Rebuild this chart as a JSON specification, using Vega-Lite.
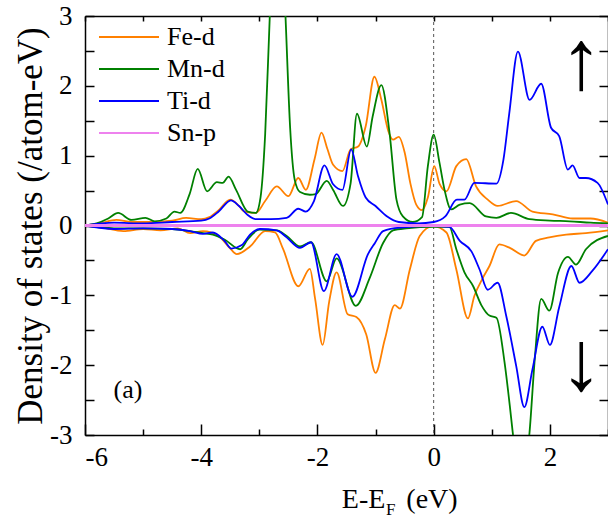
{
  "$schema": "https://vega.github.io/schema/vega-lite/v6.json",
  "width": 523,
  "height": 419,
  "autosize": {"type": "none"},
  "padding": {"left": 85, "top": 16, "right": 0, "bottom": 83},
  "background": "white",
  "config": {
    "view": {"stroke": null},
    "axis": {
      "grid": false,
      "domainColor": "black",
      "domainWidth": 1.5,
      "tickColor": "black",
      "tickWidth": 1.5,
      "labelFont": "Liberation Serif",
      "labelFontSize": 27,
      "labelColor": "black",
      "titleFont": "Liberation Serif",
      "titleFontWeight": "normal",
      "titleColor": "black"
    }
  },
  "datasets": {
    "dos": [
      {"s":"Fe-d","p":"up","x":-6,"y":0},{"s":"Fe-d","p":"up","x":-5.75,"y":0.03},{"s":"Fe-d","p":"up","x":-5.46,"y":0.08},{"s":"Fe-d","p":"up","x":-5.2,"y":0.05},{"s":"Fe-d","p":"up","x":-4.9,"y":0.05},{"s":"Fe-d","p":"up","x":-4.5,"y":0.07},{"s":"Fe-d","p":"up","x":-4.26,"y":0.11},{"s":"Fe-d","p":"up","x":-4.0,"y":0.09},{"s":"Fe-d","p":"up","x":-3.86,"y":0.12},{"s":"Fe-d","p":"up","x":-3.7,"y":0.22},{"s":"Fe-d","p":"up","x":-3.5,"y":0.37},{"s":"Fe-d","p":"up","x":-3.35,"y":0.28},{"s":"Fe-d","p":"up","x":-3.26,"y":0.2},{"s":"Fe-d","p":"up","x":-3.06,"y":0.18},{"s":"Fe-d","p":"up","x":-2.9,"y":0.35},{"s":"Fe-d","p":"up","x":-2.7,"y":0.56},{"s":"Fe-d","p":"up","x":-2.5,"y":0.42},{"s":"Fe-d","p":"up","x":-2.33,"y":0.68},{"s":"Fe-d","p":"up","x":-2.2,"y":0.51},{"s":"Fe-d","p":"up","x":-2.05,"y":0.95},{"s":"Fe-d","p":"up","x":-1.93,"y":1.33},{"s":"Fe-d","p":"up","x":-1.83,"y":1.1},{"s":"Fe-d","p":"up","x":-1.73,"y":0.87},{"s":"Fe-d","p":"up","x":-1.57,"y":0.78},{"s":"Fe-d","p":"up","x":-1.43,"y":1.09},{"s":"Fe-d","p":"up","x":-1.3,"y":1.13},{"s":"Fe-d","p":"up","x":-1.17,"y":1.42},{"s":"Fe-d","p":"up","x":-1.02,"y":2.13},{"s":"Fe-d","p":"up","x":-0.9,"y":1.8},{"s":"Fe-d","p":"up","x":-0.78,"y":1.35},{"s":"Fe-d","p":"up","x":-0.7,"y":1.23},{"s":"Fe-d","p":"up","x":-0.6,"y":1.27},{"s":"Fe-d","p":"up","x":-0.5,"y":1.05},{"s":"Fe-d","p":"up","x":-0.4,"y":0.6},{"s":"Fe-d","p":"up","x":-0.3,"y":0.3},{"s":"Fe-d","p":"up","x":-0.2,"y":0.22},{"s":"Fe-d","p":"up","x":-0.1,"y":0.4},{"s":"Fe-d","p":"up","x":0.01,"y":0.85},{"s":"Fe-d","p":"up","x":0.1,"y":0.6},{"s":"Fe-d","p":"up","x":0.22,"y":0.49},{"s":"Fe-d","p":"up","x":0.39,"y":0.85},{"s":"Fe-d","p":"up","x":0.56,"y":0.95},{"s":"Fe-d","p":"up","x":0.73,"y":0.56},{"s":"Fe-d","p":"up","x":0.93,"y":0.37},{"s":"Fe-d","p":"up","x":1.1,"y":0.28},{"s":"Fe-d","p":"up","x":1.42,"y":0.35},{"s":"Fe-d","p":"up","x":1.7,"y":0.2},{"s":"Fe-d","p":"up","x":2.05,"y":0.16},{"s":"Fe-d","p":"up","x":2.39,"y":0.1},{"s":"Fe-d","p":"up","x":2.7,"y":0.1},{"s":"Fe-d","p":"up","x":3.0,"y":0.04},
      {"s":"Mn-d","p":"up","x":-6,"y":0},{"s":"Mn-d","p":"up","x":-5.8,"y":0.03},{"s":"Mn-d","p":"up","x":-5.6,"y":0.1},{"s":"Mn-d","p":"up","x":-5.43,"y":0.18},{"s":"Mn-d","p":"up","x":-5.2,"y":0.08},{"s":"Mn-d","p":"up","x":-4.96,"y":0.11},{"s":"Mn-d","p":"up","x":-4.8,"y":0.06},{"s":"Mn-d","p":"up","x":-4.6,"y":0.1},{"s":"Mn-d","p":"up","x":-4.46,"y":0.2},{"s":"Mn-d","p":"up","x":-4.36,"y":0.18},{"s":"Mn-d","p":"up","x":-4.2,"y":0.45},{"s":"Mn-d","p":"up","x":-4.06,"y":0.81},{"s":"Mn-d","p":"up","x":-3.9,"y":0.49},{"s":"Mn-d","p":"up","x":-3.73,"y":0.62},{"s":"Mn-d","p":"up","x":-3.63,"y":0.61},{"s":"Mn-d","p":"up","x":-3.53,"y":0.7},{"s":"Mn-d","p":"up","x":-3.4,"y":0.51},{"s":"Mn-d","p":"up","x":-3.2,"y":0.2},{"s":"Mn-d","p":"up","x":-3.06,"y":0.18},{"s":"Mn-d","p":"up","x":-2.98,"y":0.4},{"s":"Mn-d","p":"up","x":-2.9,"y":1.3},{"s":"Mn-d","p":"up","x":-2.82,"y":3.0},{"s":"Mn-d","p":"up","x":-2.68,"y":5.5},{"s":"Mn-d","p":"up","x":-2.55,"y":3.0},{"s":"Mn-d","p":"up","x":-2.47,"y":1.4},{"s":"Mn-d","p":"up","x":-2.39,"y":0.65},{"s":"Mn-d","p":"up","x":-2.3,"y":0.48},{"s":"Mn-d","p":"up","x":-2.13,"y":0.44},{"s":"Mn-d","p":"up","x":-2.03,"y":0.45},{"s":"Mn-d","p":"up","x":-1.84,"y":0.64},{"s":"Mn-d","p":"up","x":-1.73,"y":0.51},{"s":"Mn-d","p":"up","x":-1.56,"y":0.28},{"s":"Mn-d","p":"up","x":-1.43,"y":0.6},{"s":"Mn-d","p":"up","x":-1.32,"y":1.6},{"s":"Mn-d","p":"up","x":-1.15,"y":1.13},{"s":"Mn-d","p":"up","x":-1.05,"y":1.56},{"s":"Mn-d","p":"up","x":-0.9,"y":2.01},{"s":"Mn-d","p":"up","x":-0.76,"y":1.33},{"s":"Mn-d","p":"up","x":-0.64,"y":0.37},{"s":"Mn-d","p":"up","x":-0.53,"y":0.13},{"s":"Mn-d","p":"up","x":-0.36,"y":0.05},{"s":"Mn-d","p":"up","x":-0.2,"y":0.12},{"s":"Mn-d","p":"up","x":-0.1,"y":0.85},{"s":"Mn-d","p":"up","x":0.0,"y":1.3},{"s":"Mn-d","p":"up","x":0.1,"y":0.9},{"s":"Mn-d","p":"up","x":0.19,"y":0.5},{"s":"Mn-d","p":"up","x":0.3,"y":0.23},{"s":"Mn-d","p":"up","x":0.45,"y":0.3},{"s":"Mn-d","p":"up","x":0.62,"y":0.32},{"s":"Mn-d","p":"up","x":0.9,"y":0.13},{"s":"Mn-d","p":"up","x":1.08,"y":0.11},{"s":"Mn-d","p":"up","x":1.33,"y":0.18},{"s":"Mn-d","p":"up","x":1.65,"y":0.09},{"s":"Mn-d","p":"up","x":2.0,"y":0.07},{"s":"Mn-d","p":"up","x":2.34,"y":0.06},{"s":"Mn-d","p":"up","x":2.7,"y":0.04},{"s":"Mn-d","p":"up","x":3.0,"y":0.03},
      {"s":"Ti-d","p":"up","x":-6,"y":0},{"s":"Ti-d","p":"up","x":-5.5,"y":0.04},{"s":"Ti-d","p":"up","x":-5.0,"y":0.03},{"s":"Ti-d","p":"up","x":-4.5,"y":0.05},{"s":"Ti-d","p":"up","x":-4.0,"y":0.07},{"s":"Ti-d","p":"up","x":-3.86,"y":0.1},{"s":"Ti-d","p":"up","x":-3.7,"y":0.2},{"s":"Ti-d","p":"up","x":-3.49,"y":0.36},{"s":"Ti-d","p":"up","x":-3.35,"y":0.28},{"s":"Ti-d","p":"up","x":-3.2,"y":0.15},{"s":"Ti-d","p":"up","x":-3.06,"y":0.09},{"s":"Ti-d","p":"up","x":-2.8,"y":0.09},{"s":"Ti-d","p":"up","x":-2.53,"y":0.11},{"s":"Ti-d","p":"up","x":-2.33,"y":0.24},{"s":"Ti-d","p":"up","x":-2.2,"y":0.2},{"s":"Ti-d","p":"up","x":-2.06,"y":0.35},{"s":"Ti-d","p":"up","x":-1.88,"y":0.86},{"s":"Ti-d","p":"up","x":-1.73,"y":0.59},{"s":"Ti-d","p":"up","x":-1.57,"y":0.51},{"s":"Ti-d","p":"up","x":-1.42,"y":1.09},{"s":"Ti-d","p":"up","x":-1.3,"y":0.7},{"s":"Ti-d","p":"up","x":-1.17,"y":0.4},{"s":"Ti-d","p":"up","x":-1.0,"y":0.28},{"s":"Ti-d","p":"up","x":-0.8,"y":0.13},{"s":"Ti-d","p":"up","x":-0.6,"y":0.05},{"s":"Ti-d","p":"up","x":-0.27,"y":0.03},{"s":"Ti-d","p":"up","x":0.0,"y":0.05},{"s":"Ti-d","p":"up","x":0.2,"y":0.13},{"s":"Ti-d","p":"up","x":0.4,"y":0.37},{"s":"Ti-d","p":"up","x":0.53,"y":0.37},{"s":"Ti-d","p":"up","x":0.7,"y":0.61},{"s":"Ti-d","p":"up","x":1.08,"y":0.6},{"s":"Ti-d","p":"up","x":1.2,"y":0.94},{"s":"Ti-d","p":"up","x":1.3,"y":1.6},{"s":"Ti-d","p":"up","x":1.45,"y":2.49},{"s":"Ti-d","p":"up","x":1.65,"y":1.8},{"s":"Ti-d","p":"up","x":1.85,"y":2.03},{"s":"Ti-d","p":"up","x":2.02,"y":1.4},{"s":"Ti-d","p":"up","x":2.16,"y":1.28},{"s":"Ti-d","p":"up","x":2.31,"y":0.8},{"s":"Ti-d","p":"up","x":2.39,"y":0.86},{"s":"Ti-d","p":"up","x":2.51,"y":0.68},{"s":"Ti-d","p":"up","x":2.62,"y":0.68},{"s":"Ti-d","p":"up","x":2.82,"y":0.61},{"s":"Ti-d","p":"up","x":3.0,"y":0.3},
      {"s":"Fe-d","p":"dn","x":-6,"y":0},{"s":"Fe-d","p":"dn","x":-5.7,"y":-0.03},{"s":"Fe-d","p":"dn","x":-5.34,"y":-0.08},{"s":"Fe-d","p":"dn","x":-5.0,"y":-0.05},{"s":"Fe-d","p":"dn","x":-4.7,"y":-0.07},{"s":"Fe-d","p":"dn","x":-4.4,"y":-0.04},{"s":"Fe-d","p":"dn","x":-4.19,"y":-0.11},{"s":"Fe-d","p":"dn","x":-3.97,"y":-0.08},{"s":"Fe-d","p":"dn","x":-3.7,"y":-0.15},{"s":"Fe-d","p":"dn","x":-3.5,"y":-0.33},{"s":"Fe-d","p":"dn","x":-3.39,"y":-0.41},{"s":"Fe-d","p":"dn","x":-3.16,"y":-0.3},{"s":"Fe-d","p":"dn","x":-2.9,"y":-0.08},{"s":"Fe-d","p":"dn","x":-2.73,"y":-0.1},{"s":"Fe-d","p":"dn","x":-2.59,"y":-0.34},{"s":"Fe-d","p":"dn","x":-2.33,"y":-0.87},{"s":"Fe-d","p":"dn","x":-2.13,"y":-0.62},{"s":"Fe-d","p":"dn","x":-2.04,"y":-1.05},{"s":"Fe-d","p":"dn","x":-1.91,"y":-1.71},{"s":"Fe-d","p":"dn","x":-1.8,"y":-1.1},{"s":"Fe-d","p":"dn","x":-1.67,"y":-0.67},{"s":"Fe-d","p":"dn","x":-1.48,"y":-1.27},{"s":"Fe-d","p":"dn","x":-1.33,"y":-1.31},{"s":"Fe-d","p":"dn","x":-1.16,"y":-1.56},{"s":"Fe-d","p":"dn","x":-1.0,"y":-2.11},{"s":"Fe-d","p":"dn","x":-0.84,"y":-1.63},{"s":"Fe-d","p":"dn","x":-0.67,"y":-1.14},{"s":"Fe-d","p":"dn","x":-0.58,"y":-1.19},{"s":"Fe-d","p":"dn","x":-0.41,"y":-0.63},{"s":"Fe-d","p":"dn","x":-0.24,"y":-0.15},{"s":"Fe-d","p":"dn","x":-0.01,"y":-0.01},{"s":"Fe-d","p":"dn","x":0.22,"y":-0.1},{"s":"Fe-d","p":"dn","x":0.39,"y":-0.63},{"s":"Fe-d","p":"dn","x":0.59,"y":-1.33},{"s":"Fe-d","p":"dn","x":0.7,"y":-1.01},{"s":"Fe-d","p":"dn","x":0.84,"y":-0.76},{"s":"Fe-d","p":"dn","x":0.96,"y":-0.58},{"s":"Fe-d","p":"dn","x":1.13,"y":-0.27},{"s":"Fe-d","p":"dn","x":1.31,"y":-0.32},{"s":"Fe-d","p":"dn","x":1.56,"y":-0.43},{"s":"Fe-d","p":"dn","x":1.76,"y":-0.22},{"s":"Fe-d","p":"dn","x":1.99,"y":-0.17},{"s":"Fe-d","p":"dn","x":2.28,"y":-0.13},{"s":"Fe-d","p":"dn","x":2.62,"y":-0.11},{"s":"Fe-d","p":"dn","x":3.0,"y":-0.07},
      {"s":"Mn-d","p":"dn","x":-6,"y":0},{"s":"Mn-d","p":"dn","x":-5.5,"y":-0.04},{"s":"Mn-d","p":"dn","x":-5.0,"y":-0.04},{"s":"Mn-d","p":"dn","x":-4.5,"y":-0.05},{"s":"Mn-d","p":"dn","x":-4.2,"y":-0.08},{"s":"Mn-d","p":"dn","x":-3.97,"y":-0.11},{"s":"Mn-d","p":"dn","x":-3.8,"y":-0.13},{"s":"Mn-d","p":"dn","x":-3.6,"y":-0.2},{"s":"Mn-d","p":"dn","x":-3.33,"y":-0.34},{"s":"Mn-d","p":"dn","x":-3.2,"y":-0.2},{"s":"Mn-d","p":"dn","x":-3.0,"y":-0.06},{"s":"Mn-d","p":"dn","x":-2.7,"y":-0.07},{"s":"Mn-d","p":"dn","x":-2.53,"y":-0.15},{"s":"Mn-d","p":"dn","x":-2.3,"y":-0.3},{"s":"Mn-d","p":"dn","x":-2.11,"y":-0.24},{"s":"Mn-d","p":"dn","x":-1.84,"y":-0.8},{"s":"Mn-d","p":"dn","x":-1.67,"y":-0.47},{"s":"Mn-d","p":"dn","x":-1.34,"y":-1.15},{"s":"Mn-d","p":"dn","x":-1.1,"y":-0.75},{"s":"Mn-d","p":"dn","x":-0.87,"y":-0.25},{"s":"Mn-d","p":"dn","x":-0.7,"y":-0.07},{"s":"Mn-d","p":"dn","x":-0.47,"y":-0.04},{"s":"Mn-d","p":"dn","x":0.0,"y":-0.02},{"s":"Mn-d","p":"dn","x":0.27,"y":-0.02},{"s":"Mn-d","p":"dn","x":0.39,"y":-0.34},{"s":"Mn-d","p":"dn","x":0.53,"y":-0.67},{"s":"Mn-d","p":"dn","x":0.68,"y":-0.87},{"s":"Mn-d","p":"dn","x":0.82,"y":-1.14},{"s":"Mn-d","p":"dn","x":0.96,"y":-1.29},{"s":"Mn-d","p":"dn","x":1.08,"y":-1.32},{"s":"Mn-d","p":"dn","x":1.22,"y":-1.96},{"s":"Mn-d","p":"dn","x":1.31,"y":-2.58},{"s":"Mn-d","p":"dn","x":1.36,"y":-2.96},{"s":"Mn-d","p":"dn","x":1.5,"y":-3.8},{"s":"Mn-d","p":"dn","x":1.65,"y":-2.96},{"s":"Mn-d","p":"dn","x":1.74,"y":-1.91},{"s":"Mn-d","p":"dn","x":1.85,"y":-1.05},{"s":"Mn-d","p":"dn","x":1.99,"y":-1.22},{"s":"Mn-d","p":"dn","x":2.14,"y":-0.68},{"s":"Mn-d","p":"dn","x":2.31,"y":-0.45},{"s":"Mn-d","p":"dn","x":2.45,"y":-0.56},{"s":"Mn-d","p":"dn","x":2.62,"y":-0.34},{"s":"Mn-d","p":"dn","x":3.0,"y":-0.15},
      {"s":"Ti-d","p":"dn","x":-6,"y":0},{"s":"Ti-d","p":"dn","x":-5.5,"y":-0.05},{"s":"Ti-d","p":"dn","x":-5.0,"y":-0.04},{"s":"Ti-d","p":"dn","x":-4.5,"y":-0.05},{"s":"Ti-d","p":"dn","x":-4.19,"y":-0.08},{"s":"Ti-d","p":"dn","x":-3.97,"y":-0.12},{"s":"Ti-d","p":"dn","x":-3.8,"y":-0.1},{"s":"Ti-d","p":"dn","x":-3.6,"y":-0.22},{"s":"Ti-d","p":"dn","x":-3.48,"y":-0.33},{"s":"Ti-d","p":"dn","x":-3.3,"y":-0.28},{"s":"Ti-d","p":"dn","x":-3.16,"y":-0.13},{"s":"Ti-d","p":"dn","x":-2.99,"y":-0.05},{"s":"Ti-d","p":"dn","x":-2.7,"y":-0.07},{"s":"Ti-d","p":"dn","x":-2.53,"y":-0.17},{"s":"Ti-d","p":"dn","x":-2.3,"y":-0.32},{"s":"Ti-d","p":"dn","x":-2.11,"y":-0.24},{"s":"Ti-d","p":"dn","x":-1.89,"y":-0.94},{"s":"Ti-d","p":"dn","x":-1.67,"y":-0.41},{"s":"Ti-d","p":"dn","x":-1.4,"y":-1.02},{"s":"Ti-d","p":"dn","x":-1.13,"y":-0.41},{"s":"Ti-d","p":"dn","x":-1.01,"y":-0.25},{"s":"Ti-d","p":"dn","x":-0.87,"y":-0.08},{"s":"Ti-d","p":"dn","x":-0.58,"y":-0.03},{"s":"Ti-d","p":"dn","x":0.0,"y":-0.01},{"s":"Ti-d","p":"dn","x":0.27,"y":-0.02},{"s":"Ti-d","p":"dn","x":0.45,"y":-0.22},{"s":"Ti-d","p":"dn","x":0.65,"y":-0.37},{"s":"Ti-d","p":"dn","x":0.79,"y":-0.63},{"s":"Ti-d","p":"dn","x":0.93,"y":-0.92},{"s":"Ti-d","p":"dn","x":1.1,"y":-0.82},{"s":"Ti-d","p":"dn","x":1.25,"y":-1.3},{"s":"Ti-d","p":"dn","x":1.42,"y":-2.01},{"s":"Ti-d","p":"dn","x":1.56,"y":-2.6},{"s":"Ti-d","p":"dn","x":1.7,"y":-2.06},{"s":"Ti-d","p":"dn","x":1.87,"y":-1.45},{"s":"Ti-d","p":"dn","x":2.0,"y":-1.71},{"s":"Ti-d","p":"dn","x":2.16,"y":-1.17},{"s":"Ti-d","p":"dn","x":2.37,"y":-0.58},{"s":"Ti-d","p":"dn","x":2.51,"y":-0.82},{"s":"Ti-d","p":"dn","x":2.73,"y":-0.65},{"s":"Ti-d","p":"dn","x":3.0,"y":-0.34}
    ],
    "snp": [
      {"s":"Sn-p","x":-6,"y":0},{"s":"Sn-p","x":3,"y":0}
    ]
  },
  "layer": [
    {
      "data": {"values": [{"x": 0}]},
      "mark": {"type": "rule", "strokeDash": [3, 3], "color": "#555555", "strokeWidth": 1},
      "encoding": {
        "x": {"field": "x", "type": "quantitative", "scale": {"domain": [-6, 3], "nice": false}, "axis": null}
      }
    },
    {
      "data": {"name": "dos"},
      "mark": {"type": "line", "interpolate": "monotone", "strokeWidth": 1.8, "clip": true},
      "encoding": {
        "x": {
          "field": "x", "type": "quantitative",
          "scale": {"domain": [-6, 3], "nice": false},
          "axis": {
            "orient": "bottom", "title": null,
            "values": [-6, -5, -4, -3, -2, -1, 0, 1, 2, 3],
            "labelExpr": "datum.value % 2 === 0 ? '' + datum.value : ''",
            "tickSize": {"condition": {"test": "datum.value % 2 === 0", "value": -11}, "value": -6},
            "labelPadding": 20
          }
        },
        "y": {
          "field": "y", "type": "quantitative",
          "scale": {"domain": [-3, 3], "nice": false},
          "axis": {
            "orient": "left",
            "title": "Density of states (/atom-eV)",
            "titleFontSize": 35,
            "titlePadding": 1,
            "values": [-3, -2.5, -2, -1.5, -1, -0.5, 0, 0.5, 1, 1.5, 2, 2.5, 3],
            "labelExpr": "datum.value % 1 === 0 ? '' + datum.value : ''",
            "tickSize": -9,
            "labelPadding": 22
          }
        },
        "color": {
          "field": "s", "type": "nominal",
          "scale": {"domain": ["Fe-d", "Mn-d", "Ti-d", "Sn-p"], "range": ["#ff8000", "#008000", "#0000ff", "#ee82ee"]},
          "legend": {
            "orient": "none", "legendX": 13, "legendY": 6, "title": null,
            "symbolType": "stroke", "symbolSize": 3600, "symbolStrokeWidth": 2,
            "labelFont": "Liberation Serif", "labelFontSize": 26, "labelColor": "black",
            "labelOffset": 7, "rowPadding": 2, "clipHeight": 30, "labelLimit": 300, "padding": 0
          }
        },
        "detail": {"field": "p", "type": "nominal"}
      }
    },
    {
      "data": {"name": "snp"},
      "mark": {"type": "line", "strokeWidth": 3},
      "encoding": {
        "x": {
          "field": "x", "type": "quantitative",
          "scale": {"domain": [-6, 3], "nice": false},
          "axis": {"orient": "top", "title": null, "labels": false, "values": [-6, -5, -4, -3, -2, -1, 0, 1, 2, 3], "tickSize": -5}
        },
        "y": {
          "field": "y", "type": "quantitative",
          "scale": {"domain": [-3, 3], "nice": false},
          "axis": {"orient": "right", "title": null, "labels": false, "values": [-3, -2.5, -2, -1.5, -1, -0.5, 0, 0.5, 1, 1.5, 2, 2.5, 3], "tickSize": -9}
        },
        "color": {"field": "s", "type": "nominal"}
      }
    },
    {
      "data": {"values": [{"t": "(a)", "x": -5.26, "y": -2.36}]},
      "mark": {"type": "text", "font": "Liberation Serif", "fontSize": 26, "baseline": "middle", "align": "center", "color": "black"},
      "encoding": {
        "x": {"field": "x", "type": "quantitative", "axis": null},
        "y": {"field": "y", "type": "quantitative", "axis": null},
        "text": {"field": "t"}
      }
    },
    {
      "data": {"values": [{"t": "↑", "x": 2.54, "y": 2.32}, {"t": "↓", "x": 2.54, "y": -1.99}]},
      "mark": {"type": "text", "font": "Liberation Serif", "fontSize": 85, "baseline": "middle", "align": "center", "color": "black"},
      "encoding": {
        "x": {"field": "x", "type": "quantitative", "axis": null},
        "y": {"field": "y", "type": "quantitative", "axis": null},
        "text": {"field": "t"}
      }
    },
    {
      "data": {"values": [{"t": "E-E", "x": -1.58, "y": -4.05}, {"t": "(eV)", "x": -0.47, "y": -4.05}]},
      "mark": {"type": "text", "font": "Liberation Serif", "fontSize": 28, "baseline": "alphabetic", "align": "left", "color": "black"},
      "encoding": {
        "x": {"field": "x", "type": "quantitative", "axis": null},
        "y": {"field": "y", "type": "quantitative", "axis": null},
        "text": {"field": "t"}
      }
    },
    {
      "data": {"values": [{"t": "F", "x": -0.82, "y": -4.15}]},
      "mark": {"type": "text", "font": "Liberation Serif", "fontSize": 17, "baseline": "alphabetic", "align": "left", "color": "black"},
      "encoding": {
        "x": {"field": "x", "type": "quantitative", "axis": null},
        "y": {"field": "y", "type": "quantitative", "axis": null},
        "text": {"field": "t"}
      }
    }
  ],
  "resolve": {"axis": {"x": "independent", "y": "independent"}}
}
